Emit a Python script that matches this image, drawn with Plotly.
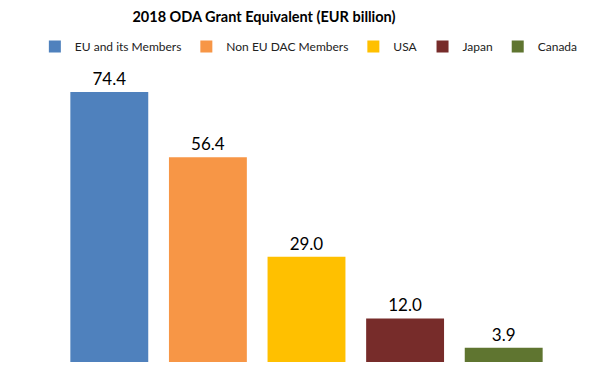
import plotly.graph_objects as go

categories = ["EU and its Members", "Non EU DAC Members", "USA", "Japan", "Canada"]
values = [74.4, 56.4, 29.0, 12.0, 3.9]
colors = ["#4f81bd", "#f79646", "#ffc000", "#772c2a", "#5f7530"]

fig = go.Figure()
for c, v, col in zip(categories, values, colors):
    fig.add_trace(go.Bar(
        x=[c], y=[v], name=c, marker=dict(color=col, line=dict(width=0)),
        width=0.79, texttemplate="%{y:.1f}", textposition="outside",
        textfont=dict(size=17, color="#000000", family="Lato"), cliponaxis=False,
    ))

# the page body adds an 8px offset, so the figure is sized 8px smaller
fig.update_layout(
    width=606, height=366,
    margin=dict(l=52, r=61, t=72, b=12, autoexpand=False),
    paper_bgcolor="white", plot_bgcolor="white",
    barmode="overlay",
    title=dict(text="<b>2018 ODA Grant Equivalent (EUR billion)</b>", xref="container", x=0.4224,
               xanchor="center", yref="container", y=0.976, yanchor="middle",
               font=dict(size=14.5, color="#000000", family="Lato")),
    legend=dict(orientation="h", xref="paper", x=-0.051, xanchor="left",
                yref="paper", y=1.17, yanchor="top",
                font=dict(size=12, color="#222222", family="Lato"), itemwidth=30,
                traceorder="normal", tracegroupgap=0),
    font=dict(family="Lato"),
    showlegend=True,
)
fig.update_xaxes(visible=False, categoryorder="array", categoryarray=categories)
fig.update_yaxes(visible=False, range=[0, 77.7])

fig.write_html("out.html")
